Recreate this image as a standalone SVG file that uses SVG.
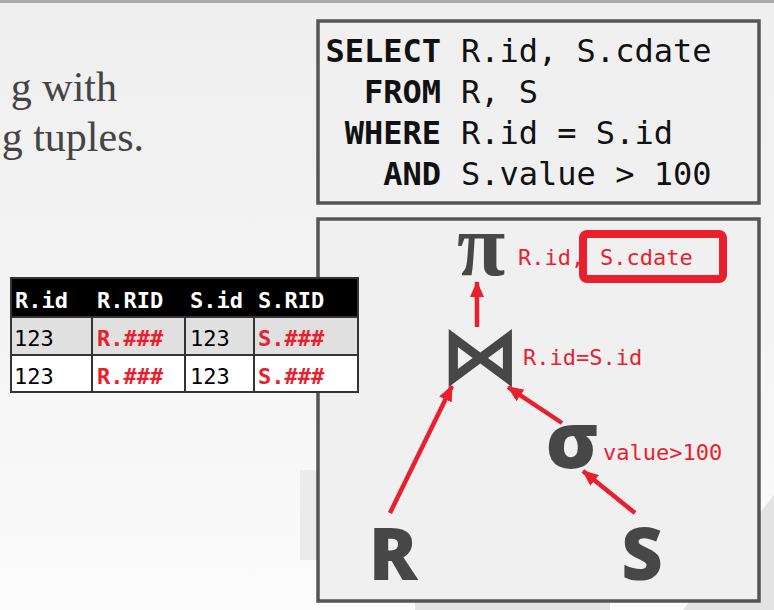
<svg xmlns="http://www.w3.org/2000/svg" width="774" height="610" viewBox="0 0 774 610">
<defs>
<linearGradient id="bg" x1="0" y1="0" x2="0" y2="1">
<stop offset="0" stop-color="#efefef"/>
<stop offset="0.45" stop-color="#f3f3f3"/>
<stop offset="1" stop-color="#fbfbfb"/>
</linearGradient>
<marker id="ah" viewBox="0 0 16 14" refX="15" refY="7" markerWidth="16" markerHeight="14" markerUnits="userSpaceOnUse" orient="auto">
<path d="M0,0 L16,7 L0,14 Z" fill="#ea1f2e"/>
</marker>
<style>
.box{fill:#f0f0f0;stroke:#555;stroke-width:3.5}
.kw{font-family:"DejaVu Sans Mono","Liberation Mono",monospace;font-size:32px;font-weight:bold;fill:#111;text-anchor:end}
.val{font-family:"DejaVu Sans Mono","Liberation Mono",monospace;font-size:32px;fill:#111}
.th{font-family:"DejaVu Sans Mono","Liberation Mono",monospace;font-size:22px;font-weight:bold;fill:#fff}
.td{font-family:"DejaVu Sans Mono","Liberation Mono",monospace;font-size:22px;fill:#000}
.tr{font-family:"DejaVu Sans Mono","Liberation Mono",monospace;font-size:22px;font-weight:bold;fill:#ea1f2e}
.lbl{font-family:"DejaVu Sans Mono","Liberation Mono",monospace;font-size:22px;fill:#ea1f2e}
.big{font-family:"Open Sans","DejaVu Sans",sans-serif;font-weight:800;fill:#474747;text-anchor:middle}
.grid{stroke:#333;stroke-width:2;fill:none}
.edge{stroke:#ea1f2e;stroke-width:4.5;fill:none;marker-end:url(#ah)}
.intro{font-family:"Liberation Serif",serif;font-size:42px;fill:#444;text-anchor:end}
</style>
</defs>
<rect x="0" y="0" width="774" height="610" fill="url(#bg)"/>
<rect x="0" y="0" width="774" height="3" fill="#aaaaaa"/>
<g id="watermark">
<polygon points="300,470 317,470 317,560 300,560" fill="#ebebeb"/>
<polygon points="415,600 610,600 610,610 415,610" fill="#e3e3e3"/>
<polygon points="774,495 774,610 683,610" fill="#e3e3e3"/>
</g>
<g id="intro">
<text class="intro" x="117" y="101">g with</text>
<text class="intro" x="144" y="151">g tuples.</text>
</g>
<g id="sql">
<rect class="box" x="318" y="21" width="441" height="182"/>
<text class="kw" x="441" y="62">SELECT</text><text class="val" x="461" y="62">R.id, S.cdate</text>
<text class="kw" x="441" y="103">FROM</text><text class="val" x="461" y="103">R, S</text>
<text class="kw" x="441" y="144">WHERE</text><text class="val" x="461" y="144">R.id = S.id</text>
<text class="kw" x="441" y="185">AND</text><text class="val" x="461" y="185">S.value &gt; 100</text>
</g>
<g id="plan-box">
<rect class="box" x="318" y="219" width="441" height="382"/>
</g>
<g id="table">
<rect x="10" y="277" width="349" height="40" fill="#000"/>
<rect x="10" y="317" width="349" height="38" fill="#e0e0e0"/>
<rect x="10" y="355" width="349" height="38" fill="#fff"/>
<rect class="grid" x="11" y="278" width="347" height="114"/>
<line class="grid" x1="10" y1="317" x2="359" y2="317"/>
<line class="grid" x1="10" y1="355" x2="359" y2="355"/>
<line class="grid" x1="92" y1="317" x2="92" y2="393"/>
<line class="grid" x1="185" y1="317" x2="185" y2="393"/>
<line class="grid" x1="254" y1="317" x2="254" y2="393"/>
<text class="th" x="15" y="308">R.id</text>
<text class="th" x="97" y="308">R.RID</text>
<text class="th" x="190" y="308">S.id</text>
<text class="th" x="258" y="308">S.RID</text>
<text class="td" x="14" y="346">123</text>
<text class="tr" x="97" y="346">R.###</text>
<text class="td" x="190" y="346">123</text>
<text class="tr" x="258" y="346">S.###</text>
<text class="td" x="14" y="384">123</text>
<text class="tr" x="97" y="384">R.###</text>
<text class="td" x="190" y="384">123</text>
<text class="tr" x="258" y="384">S.###</text>
</g>
<g id="connectors">
<line class="edge" x1="477" y1="327" x2="477" y2="282"/>
<line class="edge" x1="390" y1="513" x2="452" y2="386"/>
<line class="edge" x1="562" y1="423" x2="508" y2="387"/>
<line class="edge" x1="635" y1="513" x2="583" y2="471"/>
</g>
<g id="projection">
<text x="481" y="275" font-family="Liberation Serif,serif" font-weight="bold" font-size="88" fill="#474747" text-anchor="middle">π</text>
<text class="lbl" x="518" y="265">R.id,</text>
<text class="lbl" x="600" y="265">S.cdate</text>
<rect x="583" y="234" width="140" height="45" rx="4" fill="none" stroke="#ea1f2e" stroke-width="8"/>
</g>
<g id="join">
<text x="480" y="383" font-family="DejaVu Sans,sans-serif" font-weight="bold" font-size="80" fill="#474747" text-anchor="middle">⋈</text>
<text class="lbl" x="523" y="365">R.id=S.id</text>
</g>
<g id="selection">
<text class="big" x="572" y="468" font-size="78">σ</text>
<text class="lbl" x="603" y="460">value&gt;100</text>
</g>
<g id="rel-R"><text class="big" x="393" y="580" font-size="72">R</text></g>
<g id="rel-S"><text class="big" x="642" y="580" font-size="72">S</text></g>
</svg>
